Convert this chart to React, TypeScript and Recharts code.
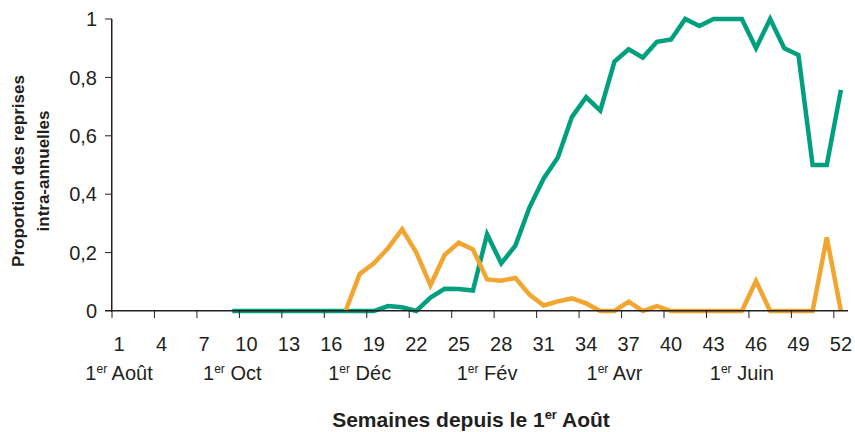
import { LineChart, Line, XAxis, YAxis } from "recharts";

// weekly proportions
const greenStartWeek = 9;
const greenValues = [
  0, 0, 0, 0, 0, 0, 0, 0, 0, 0, 0, 0.017, 0.013, 0, 0.046, 0.076, 0.075, 0.07,
  0.263, 0.163, 0.224, 0.355, 0.454, 0.526, 0.665, 0.732, 0.686, 0.854, 0.896,
  0.868, 0.922, 0.93, 1, 0.976, 1, 1, 1, 0.9, 1, 0.9, 0.877, 0.5, 0.5, 0.757,
];
const orangeStartWeek = 17;
const orangeValues = [
  0, 0.127, 0.163, 0.215, 0.28, 0.2, 0.088, 0.192, 0.234, 0.211, 0.108, 0.104,
  0.113, 0.056, 0.019, 0.033, 0.043, 0.026, 0, 0, 0.032, 0, 0.017, 0, 0, 0, 0,
  0, 0, 0.103, 0, 0, 0, 0, 0.252, 0,
];

const weekTicks = [1, 4, 7, 10, 13, 16, 19, 22, 25, 28, 31, 34, 37, 40, 43, 46, 49, 52];
const monthWeeks = [1, 9, 18, 27, 36, 45];
const monthNames = ["Août", "Oct", "Déc", "Fév", "Avr", "Juin"];
const yTicks = [0, 0.2, 0.4, 0.6, 0.8, 1];

const data = Array.from({ length: 52 }, (_, i) => {
  const week = i + 1;
  return {
    week,
    green: week >= greenStartWeek ? greenValues[week - greenStartWeek] : null,
    orange: week >= orangeStartWeek ? orangeValues[week - orangeStartWeek] : null,
  };
});

const ink = "#231f20";
const font = "'Liberation Sans', Arial, sans-serif";

const fmtY = (v: number) => (v === 0 || v === 1 ? String(v) : v.toFixed(1).replace(".", ","));

function NumberTick({ x, payload }: any) {
  return (
    <text x={x} y={351} textAnchor="middle" fill={ink} fontSize={20} fontFamily={font}>
      {payload.value}
    </text>
  );
}

function MonthTick({ x, payload }: any) {
  const name = monthNames[monthWeeks.indexOf(payload.value)];
  return (
    <text x={x} y={380} textAnchor="middle" fill={ink} fontSize={20} fontFamily={font}>
      1
      <tspan dy={-7} fontSize={12}>er</tspan>
      <tspan dy={7}>{" " + name}</tspan>
    </text>
  );
}

const titleStyle: React.CSSProperties = {
  position: "absolute",
  fontFamily: font,
  fontWeight: "bold",
  color: ink,
  whiteSpace: "nowrap",
};

export default function App() {
  return (
    <div style={{ position: "absolute", left: 0, top: 0, width: 855, height: 432 }}>
      <LineChart width={855} height={432} data={data} margin={{ top: 19, right: 7, bottom: 30, left: 0 }}>
        <XAxis
          xAxisId="main"
          type="number"
          dataKey="week"
          domain={[0.5, 52.5]}
          ticks={weekTicks.map((w) => w - 0.5)}
          interval={0}
          tickFormatter={() => ""}
          tickSize={7}
          height={30}
          stroke={ink}
        />
        <XAxis
          xAxisId="nums"
          type="number"
          dataKey="week"
          domain={[0.5, 52.5]}
          ticks={weekTicks}
          interval={0}
          tick={<NumberTick />}
          height={30}
          axisLine={false}
          tickLine={false}
        />
        <XAxis
          xAxisId="months"
          type="number"
          dataKey="week"
          domain={[0.5, 52.5]}
          ticks={monthWeeks}
          interval={0}
          tick={<MonthTick />}
          height={31}
          axisLine={false}
          tickLine={false}
        />
        <YAxis
          width={112}
          domain={[0, 1]}
          ticks={yTicks}
          interval={0}
          tickFormatter={fmtY}
          tickSize={7}
          tickMargin={8}
          stroke={ink}
          tick={{ fill: ink, fontSize: 20, fontFamily: font }}
        />
        <Line
          xAxisId="main"
          type="linear"
          dataKey="green"
          stroke="#00a07f"
          strokeWidth={4.5}
          dot={false}
          isAnimationActive={false}
        />
        <Line
          xAxisId="main"
          type="linear"
          dataKey="orange"
          stroke="#f2a530"
          strokeWidth={4.5}
          dot={false}
          isAnimationActive={false}
        />
      </LineChart>
      {/* axis frame as plain HTML, in case the svg axis lines do not show */}
      <div style={{ position: "absolute", left: 111, top: 19, width: 0, height: 293, borderLeft: `1.5px solid ${ink}` }} />
      <div style={{ position: "absolute", left: 105, top: 310, width: 743, height: 0, borderTop: `1.5px solid ${ink}` }} />
      <div style={{ ...titleStyle, left: 0, width: 942, top: 407, fontSize: 21, textAlign: "center" }}>
        Semaines depuis le 1<sup style={{ fontSize: 13 }}>er</sup> Août
      </div>
      <div
        style={{
          ...titleStyle,
          left: 31,
          top: 171,
          fontSize: 17,
          lineHeight: "25px",
          textAlign: "center",
          transform: "translate(-50%, -50%) rotate(-90deg)",
        }}
      >
        Proportion des reprises
        <br />
        intra-annuelles
      </div>
    </div>
  );
}
